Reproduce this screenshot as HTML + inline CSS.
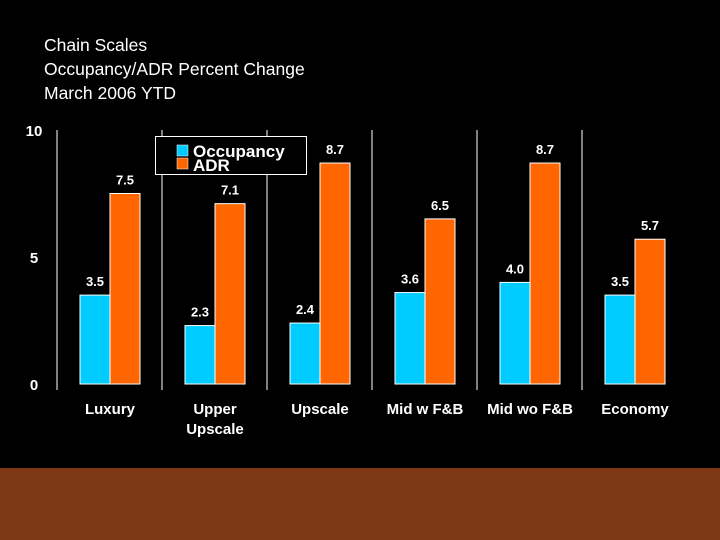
<!DOCTYPE html>
<html><head><meta charset="utf-8"><style>
body{margin:0;background:#000;width:720px;height:540px;overflow:hidden;font-family:"Liberation Sans",sans-serif}
#title{position:absolute;left:44px;top:33px;color:#fff;font-size:17.5px;line-height:24px}
#band{position:absolute;left:0;top:468px;width:720px;height:72px;background:#7f3816}
svg{position:absolute;left:0;top:0}
</style></head><body>
<div id="title">Chain Scales<br>Occupancy/ADR Percent Change<br>March 2006 YTD</div>
<div id="band"></div>
<svg id="chart" width="720" height="540"></svg>
<script>
const categories=["Luxury","Upper|Upscale","Upscale","Mid w F&B","Mid wo F&B","Economy"];
const occupancy=[3.5,2.3,2.4,3.6,4.0,3.5];
const adr=[7.5,7.1,8.7,6.5,8.7,5.7];
const ticks=[0,5,10];
const NS="http://www.w3.org/2000/svg";
const svg=document.getElementById('chart');
const y=v=>384-v*25.4;
const gx=i=>57+i*105;
function mk(t,a,parent){const e=document.createElementNS(NS,t);for(const k in a)e.setAttribute(k,a[k]);(parent||svg).appendChild(e);return e;}
ticks.forEach(t=>{const e=mk('text',{x:34,y:y(t)+6,fill:'#fff','font-size':15,'font-weight':'bold','text-anchor':'middle'});e.textContent=t;

});
for(let i=0;i<6;i++){const l=mk('line',{x1:gx(i),x2:gx(i),y1:130,y2:390,stroke:'#fff','stroke-width':1});

}
categories.forEach((c,i)=>{
 const x0=gx(i)+23;
 [[occupancy[i],'#00ccff',x0,'occupancy'],[adr[i],'#ff6600',x0+30,'adr']].forEach(([v,col,x,s])=>{
  const r=mk('rect',{x:x,y:y(v),width:30,height:384-y(v),fill:col,stroke:'#fff','stroke-width':1});
  
  
  const t=mk('text',{x:x+15,y:y(v)-9,fill:'#fff','font-size':13,'font-weight':'bold','text-anchor':'middle'});t.textContent=v.toFixed(1);
  
  
 });
 c.split('|').forEach((p,j)=>{const t=mk('text',{x:x0+30,y:414+j*20,fill:'#fff','font-size':15,'font-weight':'bold','text-anchor':'middle'});t.textContent=p;
 
 });
});
const lg=mk('g',{});


mk('rect',{x:155.5,y:136.5,width:151,height:38,fill:'#000',stroke:'#fff','stroke-width':1},lg);
mk('rect',{x:177,y:145,width:11,height:11,fill:'#00ccff',stroke:'#fff','stroke-width':0.5},lg);
mk('rect',{x:177,y:158,width:11,height:11,fill:'#ff6600',stroke:'#fff','stroke-width':0.5},lg);
const t1=mk('text',{x:193,y:157,fill:'#fff','font-size':17,'font-weight':'bold'},lg);t1.textContent='Occupancy';
const t2=mk('text',{x:193,y:171,fill:'#fff','font-size':17,'font-weight':'bold'},lg);t2.textContent='ADR';
</script>
</body></html>
